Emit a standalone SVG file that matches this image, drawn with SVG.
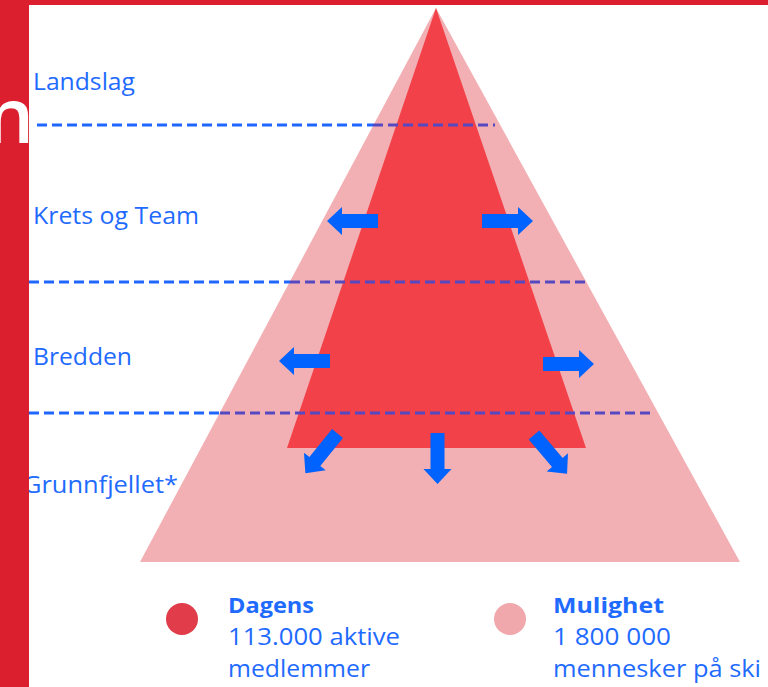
<svg xmlns="http://www.w3.org/2000/svg" xmlns:xlink="http://www.w3.org/1999/xlink" width="768" height="687" viewBox="0 0 768 687">
  <style>
    .lbl { font-family: "Open Sans", "Noto Sans", "Liberation Sans", sans-serif; font-size: 24px; fill: #1F6BFF; }
    .leg { font-family: "Open Sans", "Noto Sans", "Liberation Sans", sans-serif; font-size: 24px; fill: #1F6BFF; }
    .legb { font-family: "Open Sans", "Noto Sans", "Liberation Sans", sans-serif; font-size: 22px; font-weight: bold; fill: #1F6BFF; }
    .dash-b { stroke: #1F66FF; stroke-width: 3; stroke-dasharray: 10 5; fill: none; }
    .dash-p { stroke: #5548C0; stroke-width: 3; stroke-dasharray: 10 5; fill: none; }
    .arrow { fill: #0062FF; }
  </style>
  <defs>
    <path id="blockArrow" d="M0,-7 H36 V-14 L51,0 L36,14 V7 H0 Z"/>
  </defs>
  <rect x="0" y="0" width="768" height="687" fill="#FFFFFF"/>

  <g id="pyramid-outer">
    <polygon points="436,8 740,562 140,562" fill="#F2B0B4"/>
  </g>
  <g id="pyramid-inner">
    <polygon points="436,8 586,448 287,448" fill="#F24148"/>
  </g>

  <g id="connectors">
    <line class="dash-b" x1="37" y1="125" x2="373" y2="125"/>
    <line class="dash-p" x1="373" y1="125" x2="495" y2="125"/>
    <line class="dash-b" x1="29" y1="282" x2="290" y2="282"/>
    <line class="dash-p" x1="290" y1="282" x2="590" y2="282"/>
    <line class="dash-b" x1="29" y1="413" x2="220" y2="413"/>
    <line class="dash-p" x1="220" y1="413" x2="655" y2="413"/>

    <use xlink:href="#blockArrow" class="arrow" transform="translate(378,221) rotate(180)"/>
    <use xlink:href="#blockArrow" class="arrow" transform="translate(482,221)"/>
    <use xlink:href="#blockArrow" class="arrow" transform="translate(330,361) rotate(180)"/>
    <use xlink:href="#blockArrow" class="arrow" transform="translate(543,364)"/>
    <use xlink:href="#blockArrow" class="arrow" transform="translate(437.5,433) rotate(90)"/>
    <use xlink:href="#blockArrow" class="arrow" transform="translate(337.5,433.5) rotate(129)"/>
    <use xlink:href="#blockArrow" class="arrow" transform="translate(534,435) rotate(49.6)"/>
  </g>

  <g id="label-landslag">
    <text class="lbl" x="33" y="90" textLength="102" lengthAdjust="spacingAndGlyphs">Landslag</text>
  </g>
  <g id="label-krets">
    <text class="lbl" x="33" y="224" textLength="166" lengthAdjust="spacingAndGlyphs">Krets og Team</text>
  </g>
  <g id="label-bredden">
    <text class="lbl" x="33" y="365" textLength="99" lengthAdjust="spacingAndGlyphs">Bredden</text>
  </g>
  <g id="label-grunnfjellet">
    <text class="lbl" x="23" y="493" textLength="155" lengthAdjust="spacingAndGlyphs">Grunnfjellet*</text>
  </g>

  <g id="legend-dagens">
    <circle cx="182" cy="619" r="16" fill="#E03C4A"/>
    <text class="legb" x="228" y="613" textLength="86" lengthAdjust="spacingAndGlyphs">Dagens</text>
    <text class="leg" x="228" y="645" textLength="172" lengthAdjust="spacingAndGlyphs">113.000 aktive</text>
    <text class="leg" x="228" y="677" textLength="142" lengthAdjust="spacingAndGlyphs">medlemmer</text>
  </g>
  <g id="legend-mulighet">
    <circle cx="510" cy="619" r="16" fill="#F0A8AC"/>
    <text class="legb" x="553" y="613" textLength="111" lengthAdjust="spacingAndGlyphs">Mulighet</text>
    <text class="leg" x="553" y="645" textLength="118" lengthAdjust="spacingAndGlyphs">1 800 000</text>
    <text class="leg" x="553" y="677" textLength="208" lengthAdjust="spacingAndGlyphs">mennesker på ski</text>
  </g>

  <g id="frame">
    <rect x="0" y="0" width="29" height="687" fill="#DC1F2E"/>
    <rect x="0" y="0" width="768" height="5" fill="#DC1F2E"/>
    <text x="34" y="143" text-anchor="end" font-family="Open Sans, Noto Sans, Liberation Sans, sans-serif" font-size="76" font-weight="600" fill="#FFFFFF">n</text>
  </g>
</svg>
